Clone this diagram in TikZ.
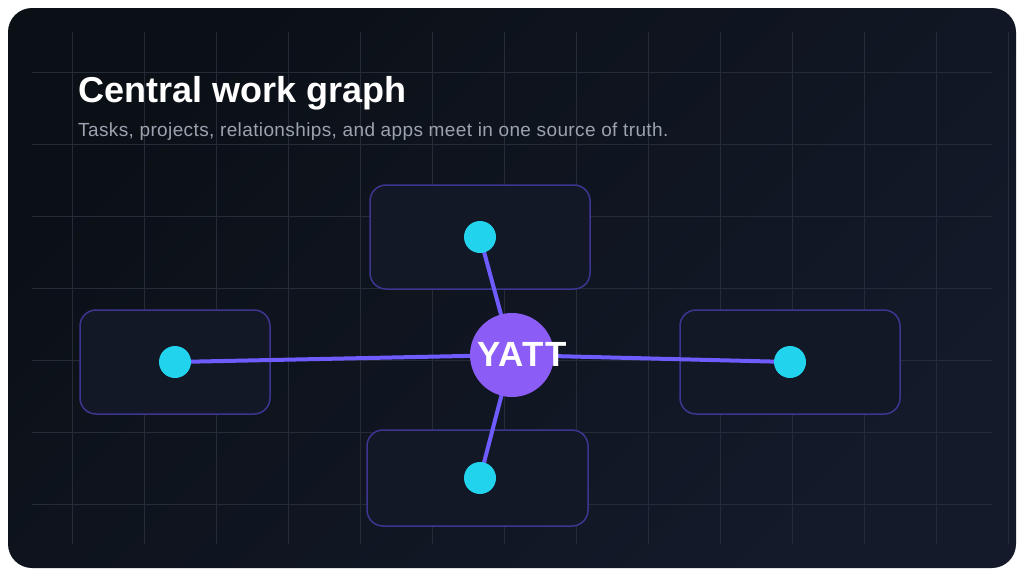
\documentclass[tikz,border=0pt]{standalone}
\usepackage{fontspec}
\setmainfont{Liberation Sans}
\definecolor{bgdark}{HTML}{0B1017}
\definecolor{bglight}{HTML}{141A2A}
\definecolor{gridc}{HTML}{252B37}
\definecolor{panelfill}{HTML}{121826}
\definecolor{paneldraw}{HTML}{3D3690}
\definecolor{linkc}{HTML}{6E5CFF}
\definecolor{hubc}{HTML}{8B5CF6}
\definecolor{dotc}{HTML}{22D3EE}
\definecolor{subc}{HTML}{9CA3AF}
\def\sc{1pt}
\def\dotsz{32pt}
\def\hubsz{84pt}
\pgfdeclarelayer{bg}
\pgfdeclarelayer{edges}
\pgfsetlayers{bg,edges,main}

\begin{document}
\begin{tikzpicture} [x=\sc, y=-\sc,
  gridline/.style={draw=gridc, line width=1pt},
  panel/.style={draw=paneldraw, fill=panelfill, line width=1.5pt, rounded corners=16pt, inner sep=0},
  dot/.style={circle, fill=dotc, minimum size=\dotsz, inner sep=0},
  hub/.style={circle, fill=hubc, minimum size=\hubsz, inner sep=0},
  link/.style={draw=linkc, line width=4pt}]
\useasboundingbox (0,0) rectangle (1024,576);
\begin{pgfonlayer}{bg}
  \fill [white] (0,0) rectangle (1024,576);
  \shade [rounded corners=24pt, top color=bgdark, bottom color=bglight, shading angle=45] (8,8) rectangle (1016,568);
  \foreach \i in {1,...,14}
    \draw [gridline] (72*\i,32) -- (72*\i,544);
  \foreach \i in {1,...,7}
    \draw [gridline] (32,72*\i) -- (992,72*\i);
  \node [panel, minimum width=220pt, minimum height=104pt] (topbox) at (480,237) {};
  \node [panel, minimum width=190pt, minimum height=104pt] (leftbox) at (175,362) {};
  \node [panel, minimum width=220pt, minimum height=104pt] (rightbox) at (790,362) {};
  \node [panel, minimum width=221pt, minimum height=96pt] (bottombox) at (477.5,478) {};
\end{pgfonlayer}
\node [anchor=base west, inner sep=0, text=white, font=\bfseries\fontsize{36}{40}\selectfont] (title) at (78,102) {Central work graph};
\node [anchor=base west, inner sep=0, text=subc, font=\addfontfeatures{LetterSpace=2}\fontsize{19}{22}\selectfont] (subtitle) at (78,136) {Tasks, projects, relationships, and apps meet in one source of truth.};
\node [hub] (hub) at (512,355) {};
\node [dot] (dottop) at (480,237) {};
\node [dot] (dotleft) at (175,362) {};
\node [dot] (dotright) at (790,362) {};
\node [dot] (dotbottom) at (480,478) {};
\node [inner sep=0, text=white, font=\addfontfeatures{LetterSpace=4}\bfseries\fontsize{35}{40}\selectfont] (hublabel) at (522,354) {YATT};
\begin{pgfonlayer}{edges}
  \foreach \d in {dottop,dotleft,dotright,dotbottom}
    \draw [link] (hub.center) -- (\d.center);
\end{pgfonlayer}
\end{tikzpicture}
\end{document}
